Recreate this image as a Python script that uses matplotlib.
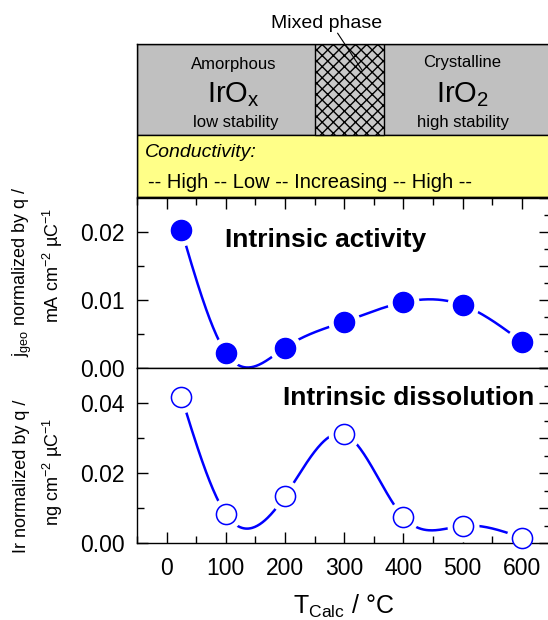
import numpy as np
import matplotlib
matplotlib.use("Agg")
import matplotlib.pyplot as plt
from matplotlib.patches import Rectangle

plt.rcParams['font.family'] = ['Liberation Sans', 'DejaVu Sans']
plt.rcParams['mathtext.default'] = 'regular'

# data
t_calc = [25, 100, 200, 300, 400, 500, 600]
activity = [0.0203, 0.00225, 0.0030, 0.0068, 0.00966, 0.00926, 0.00387]
dissolution = [0.0418, 0.0083, 0.0134, 0.0311, 0.0074, 0.0049, 0.0015]
x_ticks = [0, 100, 200, 300, 400, 500, 600]

BLUE = '#0000ff'


def natural_spline(x, y, num=400):
    # natural cubic spline through the points, like the smoothed line in the original
    x = np.asarray(x, float)
    y = np.asarray(y, float)
    n = len(x)
    h = np.diff(x)
    A = np.zeros((n, n))
    b = np.zeros(n)
    A[0, 0] = A[-1, -1] = 1
    for i in range(1, n - 1):
        A[i, i - 1] = h[i - 1]
        A[i, i] = 2 * (h[i - 1] + h[i])
        A[i, i + 1] = h[i]
        b[i] = 3 * ((y[i + 1] - y[i]) / h[i] - (y[i] - y[i - 1]) / h[i - 1])
    c = np.linalg.solve(A, b)
    xs = np.linspace(x[0], x[-1], num)
    idx = np.clip(np.searchsorted(x, xs) - 1, 0, n - 2)
    dx = xs - x[idx]
    bb = (y[idx + 1] - y[idx]) / h[idx] - h[idx] * (2 * c[idx] + c[idx + 1]) / 3
    d = (c[idx + 1] - c[idx]) / (3 * h[idx])
    ys = y[idx] + bb * dx + c[idx] * dx ** 2 + d * dx ** 3
    return xs, ys


def style_axis(ax, ymaj, ymin):
    ax.set_xlim(-50, 648)
    ax.set_xticks(x_ticks)
    ax.set_xticks(np.arange(-50, 650, 50), minor=True)
    ax.set_yticks(ymaj)
    ax.set_yticks(ymin, minor=True)
    ax.tick_params(which='major', direction='in', length=8, width=1, labelsize=16.5)
    ax.tick_params(which='minor', direction='in', length=5, width=1)
    ax.tick_params(axis='y', right=False, pad=9)
    ax.spines['right'].set_visible(False)
    for s in ax.spines.values():
        s.set_linewidth(1)


def right_ticks(ax, major, minor):
    axr = ax.twinx()
    axr.set_ylim(ax.get_ylim())
    axr.set_yticks(major)
    axr.set_yticks(minor, minor=True)
    axr.tick_params(which='major', direction='in', length=8, width=1, labelright=False)
    axr.tick_params(which='minor', direction='in', length=4, width=1)
    for s in axr.spines.values():
        s.set_visible(False)


def draw_series(ax, y, filled):
    xs, ys = natural_spline(t_calc, y)
    ax.plot(xs, ys, color=BLUE, lw=1.8, zorder=2, clip_on=False)
    # white halo so the line stops short of the symbols
    ax.plot(t_calc, y, 'o', ms=23, mfc='white', mec='none', zorder=2.2, clip_on=False)
    if filled:
        ax.plot(t_calc, y, 'o', ms=14.5, mfc=BLUE, mec=BLUE, zorder=3, clip_on=False)
    else:
        ax.plot(t_calc, y, 'o', ms=14.5, mfc='white', mec=BLUE, mew=1.1, zorder=3, clip_on=False)


fig = plt.figure(figsize=(5.48, 6.2), dpi=100)
left, right = 137 / 548, 1.004
ax_box = fig.add_axes([left, 1 - 197 / 620, right - left, 153 / 620])
ax1 = fig.add_axes([left, 1 - 368 / 620, right - left, 170 / 620])
ax2 = fig.add_axes([left, 1 - 543 / 620, right - left, 175 / 620])

# upper panel: intrinsic activity
ax1.set_ylim(0, 0.025)
style_axis(ax1, [0, 0.01, 0.02], [0.005, 0.015])
ax1.tick_params(axis='x', which='both', bottom=False, top=True, labelbottom=False)
ax1.set_yticklabels(['0.00', '0.01', '0.02'])
right_ticks(ax1, np.arange(0, 0.0251, 0.005), np.arange(0.0025, 0.025, 0.005))
draw_series(ax1, activity, True)
ax1.text(98, 0.0188, 'Intrinsic activity', fontsize=19, fontweight='bold', va='center', ha='left')

# lower panel: intrinsic dissolution
ax2.set_ylim(0, 0.05)
style_axis(ax2, [0, 0.02, 0.04], [0.01, 0.03])
ax2.tick_params(axis='x', which='both', top=False)
ax2.set_yticklabels(['0.00', '0.02', '0.04'])
ax2.tick_params(axis='x', pad=10)
right_ticks(ax2, np.arange(0, 0.051, 0.01), np.arange(0.005, 0.05, 0.01))
draw_series(ax2, dissolution, False)
ax2.text(621, 0.0414, 'Intrinsic dissolution', fontsize=19, fontweight='bold', va='center', ha='right')
ax2.set_xlabel('T$_{Calc}$ / °C', fontsize=18, labelpad=9)

# y labels
fig.text(22 / 548, 1 - 272 / 620, 'j$_{geo}$ normalized by q /', rotation=90, fontsize=13, ha='center', va='center')
fig.text(53 / 548, 1 - 265 / 620, 'mA cm$^{-2}$ µC$^{-1}$', rotation=90, fontsize=13, ha='center', va='center')
fig.text(22 / 548, 1 - 476 / 620, 'Ir normalized by q /', rotation=90, fontsize=13, ha='center', va='center')
fig.text(53 / 548, 1 - 472 / 620, 'ng cm$^{-2}$ µC$^{-1}$', rotation=90, fontsize=13, ha='center', va='center')

# phase / conductivity box on top
ax_box.set_xlim(-50, 648)
ax_box.set_ylim(0, 1)
ax_box.set_xticks([])
ax_box.set_yticks([])
for s in ax_box.spines.values():
    s.set_linewidth(1)
ax_box.spines['right'].set_visible(False)
split = 0.405
ax_box.add_patch(Rectangle((-50, split), 700, 1 - split, facecolor='#c0c0c0', edgecolor='black', lw=1))
ax_box.add_patch(Rectangle((-50, 0), 700, split, facecolor='#ffff88', edgecolor='black', lw=1))
ax_box.add_patch(Rectangle((251, split), 116, 1 - split, facecolor='#c8c8c8', edgecolor='black',
                           hatch='xxx', lw=1))

ax_box.text(113, 0.863, 'Amorphous', fontsize=12, ha='center', va='center')
ax_box.text(113, 0.667, 'IrO$_x$', fontsize=21, ha='center', va='center')
ax_box.text(117, 0.49, 'low stability', fontsize=12, ha='center', va='center')
ax_box.text(500, 0.876, 'Crystalline', fontsize=12, ha='center', va='center')
ax_box.text(500, 0.667, 'IrO$_2$', fontsize=21, ha='center', va='center')
ax_box.text(500, 0.49, 'high stability', fontsize=12, ha='center', va='center')
ax_box.text(-37, 0.288, 'Conductivity:', fontsize=14, style='italic', ha='left', va='center')
ax_box.text(-32, 0.098, '-- High -- Low -- Increasing -- High --', fontsize=14.5, ha='left', va='center')

ax_box.text(270, 1.137, 'Mixed phase', fontsize=14, ha='center', va='center', clip_on=False)
ax_box.plot([289, 330], [1.07, 0.83], color='black', lw=0.8, clip_on=False)

fig.savefig('out.png', dpi=100)
